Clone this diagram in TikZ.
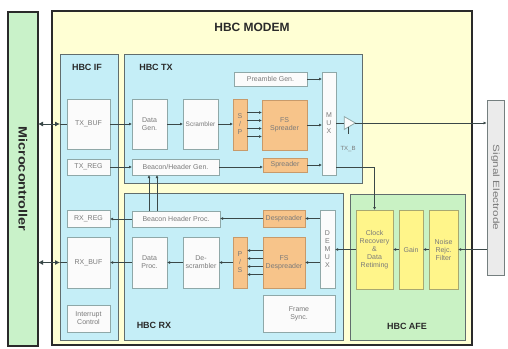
\documentclass[tikz,border=0pt]{standalone}
\usepackage{fontspec}
\setmainfont{Liberation Sans}
\usetikzlibrary{arrows.meta,shapes.geometric}
\definecolor{microg}{HTML}{C9F2C9}
\definecolor{modemy}{HTML}{FFFFD4}
\definecolor{subc}{HTML}{C5EEF7}
\definecolor{afeg}{HTML}{C9F2C4}
\definecolor{wbox}{HTML}{FBFBFB}
\definecolor{wline}{HTML}{8FA8A8}
\definecolor{orf}{HTML}{F7C48A}
\definecolor{orl}{HTML}{C89A6A}
\definecolor{yef}{HTML}{FFF58A}
\definecolor{yel}{HTML}{A8A870}
\definecolor{elf}{HTML}{EBEBEB}
\definecolor{txt}{HTML}{7A7A7A}
\definecolor{ttl}{HTML}{2A2A2A}
\definecolor{lin}{HTML}{3A4848}
\tikzset{
  outerbox/.style={draw=ttl, line width=1.1pt, inner sep=0pt, outer sep=0pt},
  subbox/.style={draw=lin!80, line width=0.9pt, fill=subc, inner sep=0pt, outer sep=0pt},
  wblk/.style={draw=wline, line width=0.8pt, fill=wbox, inner sep=0pt, outer sep=0pt, align=center, text=txt, font=\fontsize{7}{8}\selectfont},
  oblk/.style={wblk, draw=orl, fill=orf},
  yblk/.style={wblk, draw=yel, fill=yef},
  ttlstyle/.style={text=ttl, font=\bfseries\fontsize{9}{10}\selectfont},
  conn/.style={draw=lin, line width=0.6pt, -{Latex[length=3pt,width=3pt]}},
  bconn/.style={draw=lin, line width=0.8pt, {Latex[length=5pt,width=5pt]}-{Latex[length=5pt,width=5pt]}},
  plain/.style={draw=lin, line width=0.6pt}
}
\newcommand\bx[7]{\node[#6, minimum width={(#4-#2)*1pt}, minimum height={(#5-#3)*1pt}] (#1) at ({(#2+#4)/2},{(#3+#5)/2}) {#7};}
\begin{document}
\begin{tikzpicture}[x=1pt,y=-1pt]
\useasboundingbox (0,0) rectangle (508,348);
% outer blocks
\bx{micro}{8}{12}{38}{346}{outerbox, fill=microg}{}
\node[rotate=-90, text=ttl, font=\bfseries\fontsize{12}{14}\selectfont] (microt) at (micro.center) {\scalebox{1.2}[1]{Microcontroller}};
\bx{modem}{52}{11}{472}{345}{outerbox, fill=modemy}{}
\node[ttlstyle, font=\bfseries\fontsize{12}{14}\selectfont] (modemt) at (252,27) {HBC MODEM};
\bx{hbcif}{60}{54}{118}{340}{subbox}{}
\bx{hbctx}{124}{54}{362}{183}{subbox}{}
\bx{hbcrx}{124}{193}{343}{340}{subbox}{}
\bx{hbcafe}{350}{194}{465}{340}{subbox, fill=afeg}{}
\node[ttlstyle] (ift) at (87,67) {HBC IF};
\node[ttlstyle] (txt) at (156,67) {HBC TX};
\node[ttlstyle] (rxt) at (154,325) {HBC RX};
\node[ttlstyle] (afet) at (407,326) {HBC AFE};
% signal electrode
\bx{elec}{487}{100}{504}{275}{draw=lin!70, line width=0.8pt, fill=elf, inner sep=0pt}{}
\node[rotate=-90, text=txt, font=\fontsize{9}{10}\selectfont] (elect) at (elec.center) {\scalebox{1.3}[1]{Signal Electrode}};
% HBC IF
\bx{txbuf}{67}{99}{110}{149}{wblk}{TX\_BUF}
\bx{txreg}{67}{159}{110}{175}{wblk}{TX\_REG}
\bx{rxreg}{67}{210}{110}{227}{wblk}{RX\_REG}
\bx{rxbuf}{67}{237}{110}{288}{wblk}{RX\_BUF}
\bx{intc}{67}{305}{110}{332}{wblk}{Interrupt\\Control}
% HBC TX
\bx{datagen}{132}{99}{167}{149}{wblk}{Data\\Gen.}
\bx{scr}{183}{99}{218}{149}{wblk, font=\fontsize{6.5}{7.5}\selectfont}{Scrambler}
\bx{sp}{233}{99}{247}{150}{oblk}{S\\/\\P}
\bx{fss}{262}{100}{307}{150}{oblk}{FS\\Spreader}
\bx{pre}{234}{72}{307}{86}{wblk}{Preamble Gen.}
\bx{mux}{322}{72}{336}{175}{wblk}{M\\U\\X}
\bx{spr}{263}{158}{307}{172}{oblk}{Spreader}
\bx{bhg}{132}{159}{219}{175}{wblk}{Beacon/Header Gen.}
\node[isosceles triangle, isosceles triangle apex angle=60, draw=wline, line width=0.8pt, fill=wbox, minimum height=11pt, inner sep=0pt, outer sep=0pt] (amp) at (348,123) {};
\coordinate (ampen) at ([yshift=-7pt]amp.south);
\node[text=txt, font=\fontsize{6}{7}\selectfont] (ampl) at (348,149) {TX\_B};
% HBC RX
\bx{bhp}{132}{211}{220}{227}{wblk}{Beacon Header Proc.}
\bx{dproc}{132}{237}{167}{288}{wblk}{Data\\Proc.}
\bx{dscr}{183}{237}{219}{288}{wblk}{De-\\scrambler}
\bx{ps}{233}{237}{247}{288}{oblk}{P\\/\\S}
\bx{fsd}{263}{237}{305}{288}{oblk}{FS\\Despreader}
\bx{dspr}{263}{210}{305}{227}{oblk}{Despreader}
\bx{demux}{320}{210}{335}{288}{wblk}{D\\E\\M\\U\\X}
\bx{fsync}{263}{295}{335}{332}{wblk}{Frame\\Sync.}
% HBC AFE
\bx{clk}{356}{210}{393}{289}{yblk}{Clock\\Recovery\\\&\\Data\\Retiming}
\bx{gain}{399}{210}{423}{289}{yblk}{Gain}
\bx{nrf}{429}{210}{458}{289}{yblk}{Noise\\Rejc.\\Filter}
% connections: micro <-> IF
\draw[bconn] (micro.east |- txbuf.west) -- (hbcif.west |- txbuf.west);
\draw[plain] (hbcif.west |- txbuf.west) -- (txbuf.west);
\draw[bconn] (micro.east |- rxbuf.west) -- (hbcif.west |- rxbuf.west);
\draw[plain] (hbcif.west |- rxbuf.west) -- (rxbuf.west);
% TX chain
\draw[conn] (txbuf.east) -- (datagen.west);
\draw[conn] (datagen.east) -- (scr.west);
\draw[conn] (scr.east) -- (scr.east -| sp.west);
\foreach \s in {12,4,-4,-12} {\draw[conn] ([yshift=\s pt]sp.east) -- ([yshift=\s pt]sp.east -| fss.west);}
\draw[conn] (fss.east) -- (fss.east -| mux.west);
\draw[conn] (pre.east) -- (pre.east -| mux.west);
\draw[conn] (spr.east) -- (spr.east -| mux.west);
\draw[conn] (txreg.east) -- (bhg.west);
\draw[conn] (bhg.east) -- (bhg.east -| spr.west);
\draw[plain] (mux.east |- amp.west) -- (amp.west);
\draw[conn] (amp.east) -- (amp.east -| elec.west);
\draw[plain] (amp.south) -- (ampen);
\draw[conn] ([yshift=8pt]mux.south east) -- ([yshift=8pt]mux.south east -| clk.north) -- (clk.north);
% beacon links
\draw[conn] ([xshift=17pt]bhp.north west) -- ([xshift=17pt]bhg.south west);
\draw[conn] ([xshift=25pt]bhp.north west) -- ([xshift=25pt]bhg.south west);
% RX chain
\draw[conn] (bhp.west) -- (bhp.west -| rxreg.east);
\draw[conn] (dspr.west) -- (dspr.west -| bhp.east);
\draw[conn] (demux.west |- dspr.east) -- (dspr.east);
\draw[conn] (demux.west |- fsd.east) -- (fsd.east);
\foreach \s in {12,4,-4,-12} {\draw[conn] ([yshift=\s pt]fsd.west) -- ([yshift=\s pt]fsd.west -| ps.east);}
\draw[conn] (ps.west) -- (ps.west -| dscr.east);
\draw[conn] (dscr.west) -- (dproc.east);
\draw[conn] (dproc.west) -- (dproc.west -| rxbuf.east);
% AFE
\draw[conn] (clk.west) -- (clk.west -| demux.east);
\draw[conn] (gain.west) -- (gain.west -| clk.east);
\draw[conn] (nrf.west) -- (nrf.west -| gain.east);
\draw[conn] (elec.west |- nrf.east) -- (nrf.east);
\end{tikzpicture}
\end{document}
